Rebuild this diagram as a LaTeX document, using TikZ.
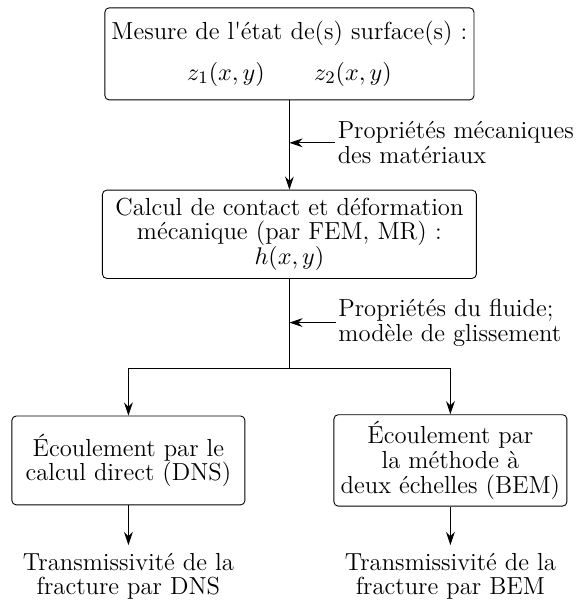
\documentclass[tikz,border=0pt]{standalone}
\usetikzlibrary{arrows.meta}
\begin{document}
\begin{tikzpicture}[
    font=\fontsize{11.2}{11.3}\selectfont,
    bloc/.style={draw, rounded corners=2pt, align=center, inner sep=3pt},
    lbl/.style={align=left, anchor=west, inner sep=1pt},
    sortie/.style={align=center},
    >={Stealth[length=6pt,width=4pt,inset=2pt]}
  ]
  \useasboundingbox (0,0) rectangle (9.26,-9.61);
  % Surfaces et contact
  \node[bloc, minimum height=1.47cm] (mesure) at (4.62,-0.86) {Mesure de l\textquotesingle état de(s) surface(s) :\\[7pt] $z_1(x,y) \qquad z_2(x,y)$};
  \node[bloc, text width=5.76cm, minimum height=1.41cm] (contact) at (4.62,-3.74) {Calcul de contact et déformation\\ mécanique (par FEM, MR) :\\ $h(x,y)$};
  \node[lbl] (propmeca) at (5.35,-2.28) {Propriétés mécaniques\\des matériaux};
  \draw[->] (mesure) -- (contact);
  \draw[->] (propmeca.west) -- (mesure.south |- propmeca.west);

  % Ecoulement
  \coordinate (branch) at (4.62,-5.88);
  \node[lbl] (propfluide) at (5.36,-5.15) {Propriétés du fluide;\\modèle de glissement};
  \node[bloc, minimum width=3.72cm, minimum height=1.42cm] (dns) at (2.05,-7.35) {Écoulement par le\\calcul direct (DNS)};
  \node[bloc, minimum width=3.72cm, minimum height=1.42cm] (bem) at (7.19,-7.35) {Écoulement par\\la méthode à\\deux échelles (BEM)};
  \node[sortie] (tdns) at (2.05,-9.2) {Transmissivité de la\\fracture par DNS};
  \node[sortie] (tbem) at (7.19,-9.2) {Transmissivité de la\\fracture par BEM};
  \draw (contact) -- (branch);
  \draw[->] (propfluide.west) -- (branch |- propfluide.west);
  \draw[->] (branch) -| (dns);
  \draw[->] (branch) -| (bem);
  \draw[->] (dns) -- (tdns);
  \draw[->] (bem) -- (tbem);
\end{tikzpicture}
\end{document}
